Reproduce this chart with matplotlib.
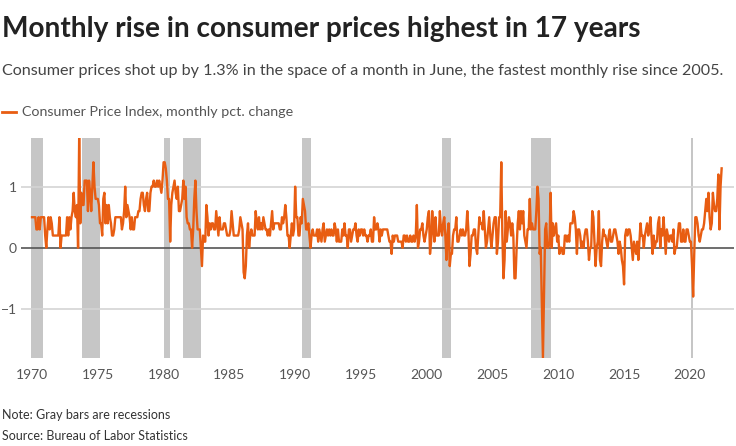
"""
Monthly CPI change 1970-2022 with recession shading.
"""

import numpy as np
import matplotlib.pyplot as plt
from matplotlib.lines import Line2D


# -------------------------------------------------------
# Data: CPI, monthly pct. change
# -------------------------------------------------------

cpi_by_year = {
    1970: [0.5, 0.5, 0.5, 0.5, 0.3, 0.3, 0.5, 0.3, 0.5, 0.5, 0.5, 0.5],
    1971: [0.2, 0.0, 0.3, 0.5, 0.3, 0.5, 0.4, 0.2, 0.2, 0.2, 0.2, 0.2],
    1972: [0.2, 0.5, 0.0, 0.2, 0.2, 0.2, 0.2, 0.2, 0.5, 0.2, 0.5, 0.3],
    1973: [0.5, 0.6, 0.9, 0.6, 0.5, 0.7, 0.0, 1.8, 0.4, 0.9, 0.7, 0.7],
    1974: [1.1, 1.1, 1.1, 0.6, 1.1, 0.9, 0.6, 1.0, 1.4, 1.0, 0.8, 0.8],
    1975: [0.8, 0.7, 0.4, 0.4, 0.2, 0.8, 0.9, 0.4, 0.7, 0.4, 0.7, 0.5],
    1976: [0.4, 0.2, 0.2, 0.3, 0.5, 0.5, 0.5, 0.5, 0.5, 0.5, 0.3, 0.4],
    1977: [0.6, 1.0, 0.5, 0.7, 0.6, 0.5, 0.3, 0.5, 0.3, 0.3, 0.5, 0.5],
    1978: [0.5, 0.6, 0.6, 0.8, 0.9, 0.9, 0.7, 0.6, 0.8, 0.9, 0.6, 0.6],
    1979: [0.9, 1.0, 1.0, 1.1, 1.0, 1.0, 1.1, 1.0, 1.1, 1.0, 0.9, 1.1],
    1980: [1.4, 1.4, 1.3, 1.1, 0.8, 0.8, 0.1, 0.7, 0.9, 1.0, 1.1, 0.9],
    1981: [0.8, 1.0, 0.6, 0.6, 0.7, 0.8, 1.1, 0.8, 1.0, 0.5, 0.4, 0.4],
    1982: [0.3, 0.3, 0.0, 0.3, 0.8, 1.1, 0.6, 0.3, 0.3, 0.3, 0.0, -0.3],
    1983: [0.2, 0.1, 0.1, 0.7, 0.5, 0.2, 0.4, 0.3, 0.4, 0.4, 0.3, 0.3],
    1984: [0.6, 0.4, 0.2, 0.5, 0.3, 0.3, 0.3, 0.4, 0.4, 0.3, 0.2, 0.2],
    1985: [0.2, 0.3, 0.6, 0.4, 0.2, 0.2, 0.2, 0.2, 0.2, 0.3, 0.5, 0.4],
    1986: [0.3, -0.4, -0.5, -0.3, 0.2, 0.4, 0.0, 0.2, 0.3, 0.2, 0.2, 0.2],
    1987: [0.6, 0.4, 0.3, 0.5, 0.3, 0.4, 0.3, 0.5, 0.4, 0.3, 0.3, 0.2],
    1988: [0.3, 0.2, 0.4, 0.6, 0.3, 0.4, 0.4, 0.4, 0.4, 0.4, 0.3, 0.3],
    1989: [0.5, 0.4, 0.5, 0.7, 0.5, 0.2, 0.2, 0.0, 0.2, 0.4, 0.2, 0.3],
    1990: [1.0, 0.5, 0.5, 0.2, 0.2, 0.5, 0.4, 0.8, 0.7, 0.6, 0.3, 0.3],
    1991: [0.4, 0.2, 0.0, 0.2, 0.3, 0.2, 0.2, 0.2, 0.3, 0.1, 0.3, 0.2],
    1992: [0.1, 0.3, 0.4, 0.1, 0.2, 0.3, 0.2, 0.3, 0.2, 0.3, 0.2, 0.2],
    1993: [0.4, 0.3, 0.1, 0.3, 0.1, 0.1, 0.1, 0.3, 0.2, 0.4, 0.2, 0.2],
    1994: [0.0, 0.3, 0.3, 0.1, 0.2, 0.3, 0.3, 0.4, 0.2, 0.1, 0.3, 0.2],
    1995: [0.3, 0.3, 0.2, 0.3, 0.2, 0.2, 0.1, 0.2, 0.2, 0.3, 0.1, 0.1],
    1996: [0.5, 0.3, 0.3, 0.4, 0.3, 0.1, 0.3, 0.2, 0.3, 0.3, 0.3, 0.3],
    1997: [0.3, 0.2, 0.1, 0.1, -0.1, 0.2, 0.1, 0.2, 0.2, 0.2, 0.1, 0.1],
    1998: [0.1, 0.1, 0.0, 0.2, 0.2, 0.1, 0.2, 0.1, 0.1, 0.2, 0.1, 0.1],
    1999: [0.2, 0.1, 0.2, 0.7, 0.0, 0.1, 0.3, 0.3, 0.4, 0.2, 0.1, 0.2],
    2000: [0.3, 0.5, 0.6, -0.1, 0.1, 0.6, 0.3, 0.1, 0.5, 0.2, 0.2, 0.2],
    2001: [0.6, 0.3, 0.2, 0.4, 0.5, 0.2, -0.2, 0.2, 0.4, -0.3, -0.1, -0.1],
    2002: [0.2, 0.3, 0.3, 0.5, 0.1, 0.1, 0.2, 0.3, 0.2, 0.3, 0.2, 0.2],
    2003: [0.3, 0.6, 0.3, -0.3, -0.1, 0.2, 0.2, 0.3, 0.3, 0.0, -0.1, 0.2],
    2004: [0.5, 0.4, 0.4, 0.3, 0.6, 0.3, 0.0, 0.1, 0.3, 0.5, 0.2, 0.0],
    2005: [0.2, 0.4, 0.5, 0.5, -0.1, 0.1, 0.5, 0.5, 1.4, 0.2, -0.5, -0.2],
    2006: [0.6, 0.1, 0.3, 0.5, 0.4, 0.2, 0.4, 0.2, -0.5, -0.5, 0.0, 0.4],
    2007: [0.6, 0.3, 0.6, 0.4, 0.6, 0.2, 0.1, 0.0, 0.3, 0.3, 0.8, 0.3],
    2008: [0.4, 0.3, 0.3, 0.3, 0.6, 1.0, 0.8, -0.1, 0.0, -0.9, -1.8, -0.8],
    2009: [0.3, 0.4, 0.0, 0.0, 0.1, 0.9, 0.0, 0.4, 0.2, 0.3, 0.4, 0.1],
    2010: [0.2, -0.1, 0.0, 0.0, -0.1, -0.1, 0.2, 0.2, 0.1, 0.2, 0.1, 0.4],
    2011: [0.4, 0.4, 0.6, 0.5, 0.3, -0.1, 0.3, 0.3, 0.2, 0.0, 0.1, 0.0],
    2012: [0.2, 0.3, 0.3, 0.1, -0.2, 0.0, 0.0, 0.6, 0.5, 0.1, -0.3, 0.0],
    2013: [0.1, 0.6, -0.2, -0.3, 0.1, 0.3, 0.2, 0.2, 0.1, 0.0, 0.2, 0.3],
    2014: [0.1, 0.1, 0.2, 0.3, 0.3, 0.2, 0.1, -0.1, 0.1, 0.0, -0.2, -0.3],
    2015: [-0.6, 0.2, 0.3, 0.2, 0.3, 0.3, 0.2, 0.0, -0.2, 0.1, 0.0, -0.1],
    2016: [0.1, -0.2, 0.1, 0.4, 0.2, 0.2, 0.0, 0.2, 0.3, 0.4, 0.2, 0.3],
    2017: [0.5, 0.2, -0.1, 0.2, 0.0, 0.1, 0.1, 0.4, 0.5, 0.0, 0.3, 0.2],
    2018: [0.5, 0.2, -0.1, 0.3, 0.2, 0.1, 0.2, 0.2, 0.1, 0.3, -0.1, 0.0],
    2019: [0.0, 0.2, 0.4, 0.4, 0.1, 0.1, 0.3, 0.1, 0.1, 0.3, 0.3, 0.2],
    2020: [0.1, 0.1, -0.3, -0.8, -0.1, 0.5, 0.5, 0.4, 0.2, 0.1, 0.2, 0.3],
    2021: [0.3, 0.4, 0.6, 0.8, 0.6, 0.9, 0.5, 0.3, 0.4, 0.9, 0.7, 0.6],
    2022: [0.6, 0.8, 1.2, 0.3, 1.0, 1.3],
}

# NBER recessions as (start, end) in decimal years
recessions = [
    (1969.92, 1970.83),
    (1973.83, 1975.17),
    (1980.0, 1980.5),
    (1981.5, 1982.83),
    (1990.5, 1991.17),
    (2001.17, 2001.83),
    (2007.92, 2009.42),
    (2020.08, 2020.25),
]

year_ticks = [1970, 1975, 1980, 1985, 1990, 1995, 2000, 2005, 2010, 2015, 2020]
y_ticks = [-1, 0, 1]
y_labels = ["\u22121", "0", "1"]

# flatten into monthly series
dates = []
values = []
for yr, months in cpi_by_year.items():
    for m, v in enumerate(months):
        dates.append(yr + m / 12)
        values.append(v)
dates = np.array(dates)
values = np.array(values)


# -------------------------------------------------------
# Plot
# -------------------------------------------------------

plt.rcParams["font.family"] = ["Lato", "DejaVu Sans"]

ORANGE = "#e85d12"

fig = plt.figure(figsize=(7.36, 4.46), dpi=100)
ax = fig.add_axes([0.0285, 0.198, 0.9685, 0.493])

for start, end in recessions:
    ax.axvspan(start, end, color="#c6c6c6", lw=0, zorder=0)

for yv in [-1, 1]:
    ax.axhline(yv, color="#d4d4d4", lw=1.2, zorder=1)
ax.axhline(0, color="#555555", lw=1.2, zorder=2)

ax.plot(dates, values, color=ORANGE, lw=1.7, zorder=3, clip_on=True)

ax.set_xlim(1969.16, 2023.34)
ax.set_ylim(-1.8, 1.8)
ax.set_xticks(year_ticks)
ax.set_yticks(y_ticks)
ax.set_yticklabels(y_labels)
ax.tick_params(length=0, labelsize=10, labelcolor="#555555")
ax.tick_params(axis="x", pad=8)
ax.tick_params(axis="y", pad=3)
for side in ax.spines.values():
    side.set_visible(False)

# titles
fig.text(0.003, 0.918, "Monthly rise in consumer prices highest in 17 years",
         fontsize=20.2, fontweight="bold", color="#222222", va="baseline")
fig.text(0.003, 0.832,
         "Consumer prices shot up by 1.3% in the space of a month in June, "
         "the fastest monthly rise since 2005.",
         fontsize=11.6, color="#444444", va="baseline")

# legend
fig.add_artist(Line2D([0.003, 0.022], [0.749, 0.749], color=ORANGE, lw=2))
fig.text(0.03, 0.749, "Consumer Price Index, monthly pct. change",
         fontsize=10.3, color="#555555", va="center")

# footer
fig.text(0.003, 0.061, "Note: Gray bars are recessions",
         fontsize=9, color="#333333", va="baseline")
fig.text(0.003, 0.014, "Source: Bureau of Labor Statistics",
         fontsize=9, color="#333333", va="baseline")

fig.savefig("out.png", dpi=100)
